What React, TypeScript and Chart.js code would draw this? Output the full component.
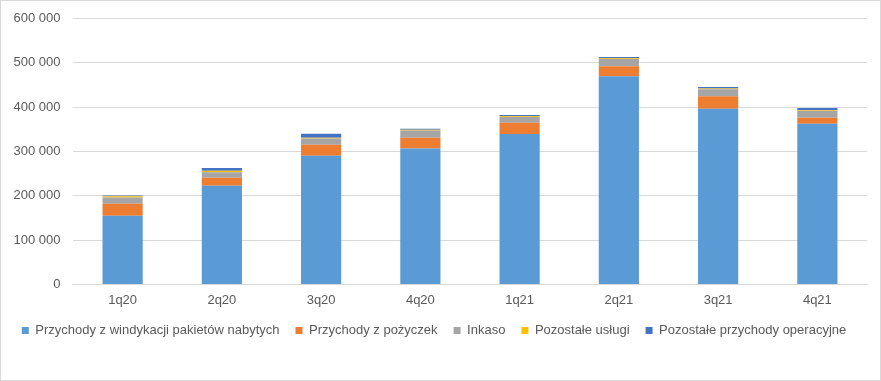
import React, { useEffect, useRef } from "react";
import { Chart, registerables } from "chart.js";

Chart.register(...registerables);

const categories = ["1q20", "2q20", "3q20", "4q20", "1q21", "2q21", "3q21", "4q21"];
const windykacja = [155000, 222500, 290000, 306500, 339000, 469500, 396000, 362000];
const pozyczki = [27000, 18000, 25000, 24000, 25500, 22500, 28500, 13500];
const inkaso = [14000, 12500, 14000, 16500, 13000, 16500, 15500, 16000];
const pozostaleUslugi = [3000, 3000, 1500, 1500, 1500, 1500, 1500, 1500];
const pozostalePrzychody = [1500, 6500, 9000, 2500, 3000, 3000, 3500, 5000];

const seriesNames = [
  "Przychody z windykacji pakietów nabytych",
  "Przychody z pożyczek",
  "Inkaso",
  "Pozostałe usługi",
  "Pozostałe przychody operacyjne",
];
const seriesColors = ["#5B9BD5", "#ED7D31", "#A5A5A5", "#FFC000", "#4472C4"];

export default function App() {
  const ref = useRef<HTMLCanvasElement>(null);
  useEffect(() => {
    const data = [windykacja, pozyczki, inkaso, pozostaleUslugi, pozostalePrzychody];
    const chart = new Chart(ref.current!, {
      type: "bar",
      data: {
        labels: categories,
        datasets: data.map((d, i) => ({
          label: seriesNames[i],
          data: d,
          backgroundColor: seriesColors[i],
          borderWidth: 0,
          categoryPercentage: 1,
          barPercentage: 0.405,
        })),
      },
      options: {
        responsive: false,
        animation: false,
        maintainAspectRatio: false,
        layout: { padding: { top: 1, right: 13, left: 0, bottom: 30 } },
        plugins: {
          tooltip: { enabled: false },
          legend: {
            position: "bottom",
            labels: {
              boxWidth: 7,
              boxHeight: 7,
              padding: 16,
              color: "#595959",
              font: { family: "Liberation Sans", size: 13 },
            },
          },
        },
        scales: {
          x: {
            stacked: true,
            grid: { display: false },
            border: { color: "#d9d9d9" },
            ticks: {
              color: "#595959",
              font: { family: "Liberation Sans", size: 13 },
              padding: 0,
            },
          },
          y: {
            stacked: true,
            min: 0,
            max: 600000,
            grid: { color: "#d9d9d9", drawTicks: false },
            border: { display: false },
            ticks: {
              stepSize: 100000,
              padding: 12.5,
              color: "#595959",
              font: { family: "Liberation Sans", size: 13 },
              callback: (v: any) => Number(v).toString().replace(/\B(?=(\d{3})+(?!\d))/g, " "),
            },
          },
        },
      },
    });
    return () => chart.destroy();
  }, []);
  return (
    <div style={{ position: "absolute", left: 0, top: 0, width: 881, height: 381, boxSizing: "border-box", border: "1px solid #d9d9d9", background: "#fff", overflow: "hidden" }}>
      <canvas ref={ref} width={879} height={379} style={{ display: "block", position: "absolute", left: 0, top: -3 }} />
    </div>
  );
}
